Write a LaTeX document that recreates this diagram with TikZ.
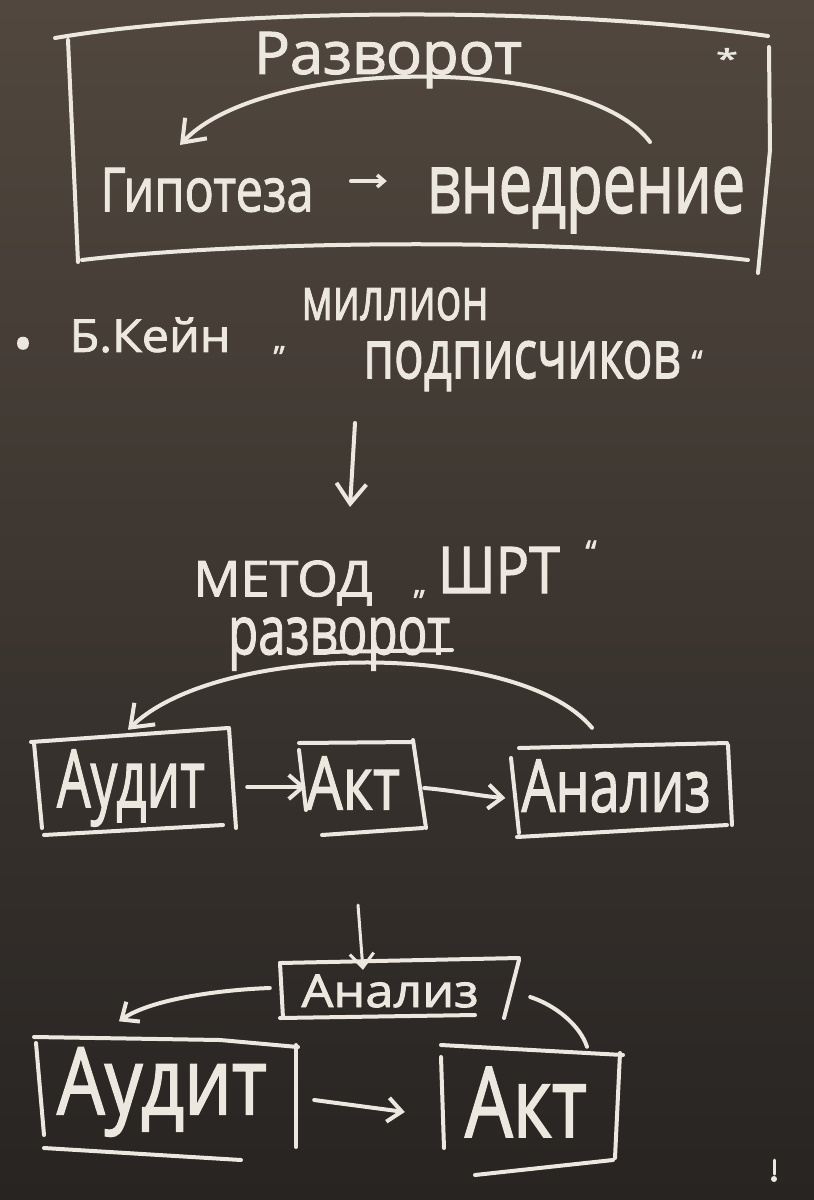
\documentclass[tikz,border=0pt]{standalone}
\usepackage{fontspec}
\usepackage{graphicx}
\setmainfont{Open Sans}
\newfontfamily\chalkfont{Open Sans}[FakeBold=1.8]
\usetikzlibrary{arrows.meta,calc}
\definecolor{chalk}{HTML}{ECE8E0}
\definecolor{boardtop}{HTML}{51473E}
\definecolor{boardbot}{HTML}{272422}
\newcommand{\hw}[3]{\resizebox*{#1pt}{#2pt}{#3}}
\begin{document}
\begin{tikzpicture}[x=1pt,y=-1pt,
  chalkline/.style={draw=chalk,line width=4pt,line cap=round,line join=round},
  conn/.style={chalkline,-{Straight Barb[length=14pt,width=24pt]}},
  bigconn/.style={chalkline,-{Straight Barb[length=20pt,width=30pt]}},
  smallconn/.style={chalkline,line width=3.5pt,-{Straight Barb[length=7pt,width=12pt]}},
  txt/.style={text=chalk,inner sep=0pt,font=\chalkfont},
  qmark/.style={text=chalk,inner sep=0pt,font=\chalkfont\fontsize{32}{32}\selectfont},
  boxnode/.style={inner sep=0pt,draw=none}]
\useasboundingbox (0,0) rectangle (814,1200);
\fill[top color=boardtop,bottom color=boardbot] (0,0) rectangle (814,1200);

% ---------- top frame ----------
\draw[chalkline] (55,38) .. controls (230,8) and (560,6) .. (768,36);
\draw[chalkline] (68,40) -- (78,262);
\draw[chalkline] (769,47) -- (770,150) -- (758,273);
\draw[chalkline] (82,260) .. controls (250,240) and (560,238) .. (748,260);

\node[txt] (razv1) at (388,60) {\hw{268}{56}{Разворот}};
\node[txt,anchor=north] (star) at (727,48) {\hw{22}{20}{*}};
\node[txt] (hyp) at (207,190) {\hw{213}{44}{Гипотеза}};
\node[txt] (impl) at (586,200) {\hw{318}{66}{внедрение}};

\coordinate (a1s) at (650,142);
\coordinate (a1e) at (180,145);
\draw[bigconn] (a1s) .. controls (585,55) and (265,55) .. (a1e);
\draw[smallconn] ([shift={(37,-9)}]hyp.east) -- ([shift={(-40,-19)}]impl.west);

% ---------- middle text ----------
\node[txt,anchor=north] (bul) at (23,337) {\fontsize{50}{50}\selectfont •};
\node[txt] (kein) at (150,335) {\hw{161}{35}{Б.Кейн}};
\node[qmark] (q1) at (280,350) {„};
\node[txt] (mill) at (395,304) {\hw{187}{33}{миллион}};
\node[txt] (podp) at (522,366) {\hw{317}{50}{подписчиков}};
\node[qmark] (q2) at (697,362) {“};

\coordinate (d1s) at (355,423);
\coordinate (d1e) at (350,507);
\draw[bigconn] (d1s) -- (d1e);

\node[txt] (method) at (283,583) {\hw{179}{45}{МЕТОД}};
\node[qmark] (q3) at (420,594) {„};
\node[txt] (shrt) at (499,570) {\hw{122}{46}{ШРТ}};
\node[qmark] (q4) at (591,552) {“};
\node[txt] (razv2) at (339,644) {\hw{222}{53}{разворот}};
\draw[chalkline] (323,652) -- (452,650);

% ---------- row 1 ----------
\node[boxnode,minimum width=200pt,minimum height=100pt] (aud1) at (133,782) {};
\node[boxnode,minimum width=120pt,minimum height=92pt] (akt1) at (362,786) {};
\node[boxnode,minimum width=215pt,minimum height=90pt] (anal1) at (622,790) {};
\node[txt] (aud1t) at (131,788) {\hw{148}{77}{Аудит}};
\node[txt] (akt1t) at (353,783) {\hw{94}{53}{Акт}};
\node[txt] (anal1t) at (616,786) {\hw{189}{53}{Анализ}};

\draw[chalkline] (31,742) -- (228,728);
\draw[chalkline] (34,743) -- (42,828);
\draw[chalkline] (229,728) -- (236,828);
\draw[chalkline] (44,835) -- (223,825);

\draw[chalkline] (299,743) -- (413,742);
\draw[chalkline] (299,750) -- (306,810);
\draw[chalkline] (413,740) -- (426,828);
\draw[chalkline] (322,835) -- (423,828);

\draw[chalkline] (519,748) -- (727,743);
\draw[chalkline] (511,758) -- (519,833);
\draw[chalkline] (728,745) -- (732,825);
\draw[chalkline] (517,837) -- (727,825);

\draw[conn] ([shift={(14,5)}]aud1.east) -- ([shift={(4,1)}]akt1.west);
\draw[conn] ([shift={(2,2)}]akt1.east) .. controls (450,790) and (480,796) .. ([shift={(-9,8)}]anal1.west);
\draw[bigconn] ([shift={(-30,-17)}]anal1.north) .. controls (520,641) and (220,641) .. ([shift={(-5,-2)}]aud1.north);

% ---------- row 2 ----------
\coordinate (d2s) at (358,905);
\node[boxnode,minimum width=236pt,minimum height=56pt] (anal2) at (400,990) {};
\node[boxnode,minimum width=262pt,minimum height=115pt] (aud2) at (167,1097) {};
\node[boxnode,minimum width=180pt,minimum height=110pt] (akt2) at (531,1105) {};
\node[txt] (anal2t) at (390,991) {\hw{177}{33}{Анализ}};
\node[txt] (aud2t) at (162,1092) {\hw{210}{89}{Аудит}};
\node[txt] (akt2t) at (526,1102) {\hw{122}{70}{Акт}};

\draw[chalkline] (280,963) -- (519,958);
\draw[chalkline] (280,963) -- (283,1018);
\draw[chalkline] (519,960) -- (504,1018);
\draw[chalkline] (280,1018) -- (475,1015);

\draw[chalkline] (34,1037) -- (220,1040) -- (298,1047);
\draw[chalkline] (36,1043) -- (44,1135);
\draw[chalkline] (296,1045) -- (296,1147);
\draw[chalkline] (44,1148) -- (241,1160);

\draw[chalkline] (441,1045) -- (623,1055);
\draw[chalkline] (441,1057) -- (444,1148);
\draw[chalkline] (620,1053) -- (615,1158);
\draw[chalkline] (475,1175) -- (613,1160);

\draw[conn,line width=3pt] (d2s) -- ([shift={(-37,8)}]anal2.north);
\draw[conn] ([shift={(-12,-2)}]anal2.west) .. controls (215,990) and (150,1000) .. ([shift={(-48,-18)}]aud2.north);
\draw[chalkline] ([shift={(12,7)}]anal2.east) .. controls (555,1005) and (580,1025) .. ([shift={(56,-3)}]akt2.north);
\draw[conn] ([shift={(16,3)}]aud2.east) -- ([shift={(-36,7)}]akt2.west);

% chalk drip
\draw[chalkline,line width=3pt] (774,1160) -- (774,1174);
\fill[chalk] (774,1179) circle (3pt);
\end{tikzpicture}
\end{document}
